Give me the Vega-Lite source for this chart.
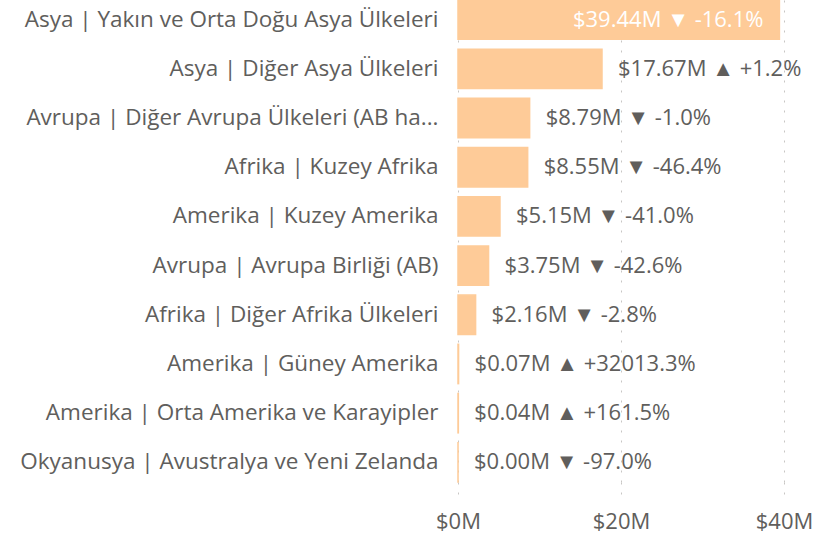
{
  "$schema": "https://vega.github.io/schema/vega-lite/v6.json",
  "autosize": {"type": "none"},
  "padding": {"left": 458, "top": 0, "right": 0, "bottom": 55},
  "width": 377,
  "height": 482,
  "background": "white",
  "config": {
    "view": {"stroke": null},
    "font": "Open Sans"
  },
  "data": {
    "values": [
      {"region": "Asya | Yakın ve Orta Doğu Asya Ülkeleri", "value": 39.44, "label": "$39.44M ▼ -16.1%"},
      {"region": "Asya | Diğer Asya Ülkeleri", "value": 17.67, "label": "$17.67M ▲ +1.2%"},
      {"region": "Avrupa | Diğer Avrupa Ülkeleri (AB ha...", "value": 8.79, "label": "$8.79M ▼ -1.0%"},
      {"region": "Afrika | Kuzey Afrika", "value": 8.55, "label": "$8.55M ▼ -46.4%"},
      {"region": "Amerika | Kuzey Amerika", "value": 5.15, "label": "$5.15M ▼ -41.0%"},
      {"region": "Avrupa | Avrupa Birliği (AB)", "value": 3.75, "label": "$3.75M ▼ -42.6%"},
      {"region": "Afrika | Diğer Afrika Ülkeleri", "value": 2.16, "label": "$2.16M ▼ -2.8%"},
      {"region": "Amerika | Güney Amerika", "value": 0.07, "label": "$0.07M ▲ +32013.3%"},
      {"region": "Amerika | Orta Amerika ve Karayipler", "value": 0.04, "label": "$0.04M ▲ +161.5%"},
      {"region": "Okyanusya | Avustralya ve Yeni Zelanda", "value": 0.004, "label": "$0.00M ▼ -97.0%"}
    ]
  },
  "encoding": {
    "y": {
      "field": "region",
      "type": "nominal",
      "sort": null,
      "scale": {"paddingInner": 0.2, "paddingOuter": 0},
      "axis": {
        "title": null,
        "ticks": false,
        "domain": false,
        "labelFontSize": 22.5,
        "labelColor": "#605E5C",
        "labelPadding": 20,
        "labelLimit": 460
      }
    },
    "x": {
      "field": "value",
      "type": "quantitative",
      "scale": {"domain": [0, 46.26], "nice": false},
      "axis": {
        "title": null,
        "values": [0, 20, 40],
        "labelExpr": "'$' + datum.value + 'M'",
        "labelFontSize": 22,
        "labelColor": "#605E5C",
        "labelFlush": false,
        "domain": false,
        "grid": true,
        "gridColor": "#C8C6C4",
        "gridDash": [2, 8],
        "ticks": true,
        "tickSize": 18,
        "tickColor": "#C8C6C4",
        "tickDash": [2, 8],
        "labelPadding": 11
      }
    }
  },
  "layer": [
    {"mark": {"type": "bar", "color": "#FECB98", "stroke": "#FECB98", "strokeWidth": 1.5}},
    {
      "transform": [{"filter": "datum.value >= 30"}],
      "mark": {"type": "text", "align": "right", "dx": -16, "color": "white", "fontSize": 22, "baseline": "middle"},
      "encoding": {"text": {"field": "label"}}
    },
    {
      "transform": [{"filter": "datum.value < 30"}],
      "mark": {"type": "text", "align": "left", "dx": 16, "color": "#605E5C", "fontSize": 22, "baseline": "middle"},
      "encoding": {"text": {"field": "label"}}
    }
  ]
}
